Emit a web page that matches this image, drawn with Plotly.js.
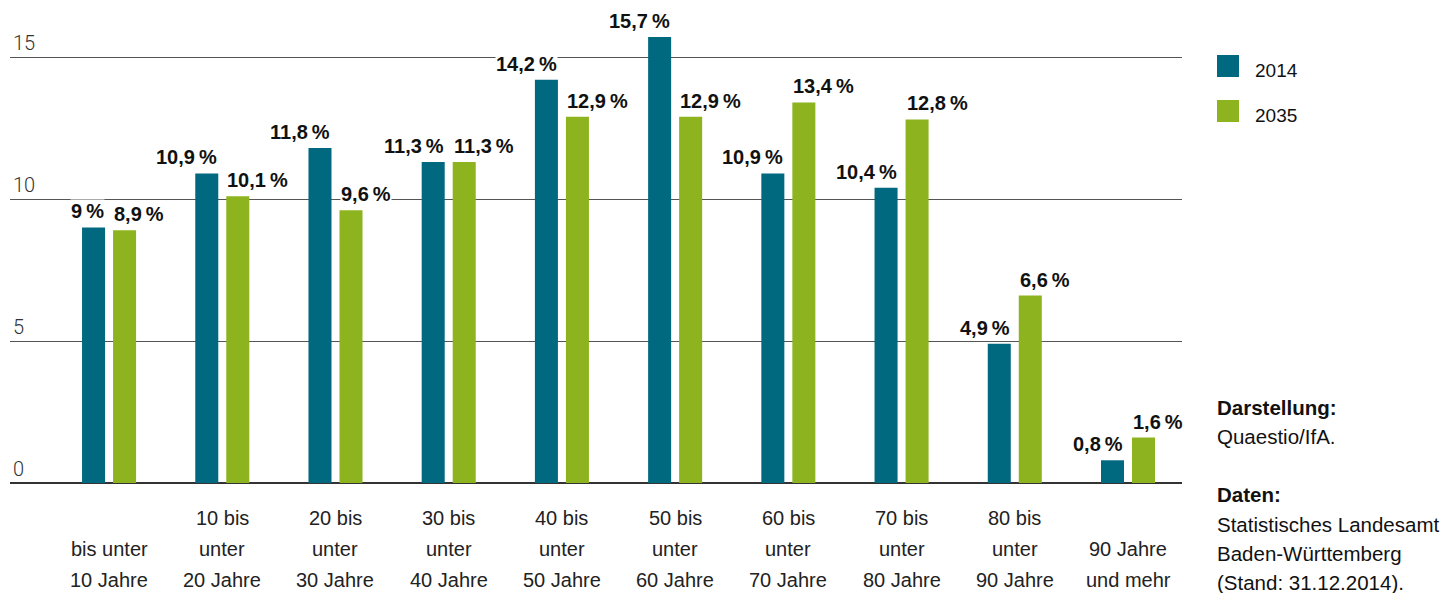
<!DOCTYPE html>
<html>
<head>
<meta charset="utf-8">
<script src="https://cdn.plot.ly/plotly-3.0.1.min.js"></script>
<style>
html,body{margin:0;padding:0;background:#fff;}
#chart{width:1456px;height:593px;}
</style>
</head>
<body>
<div id="chart"></div>
<script>
// ---- data ----
const categories = ["bis unter 10 Jahre","10 bis unter 20 Jahre","20 bis unter 30 Jahre","30 bis unter 40 Jahre","40 bis unter 50 Jahre","50 bis unter 60 Jahre","60 bis unter 70 Jahre","70 bis unter 80 Jahre","80 bis unter 90 Jahre","90 Jahre und mehr"];
const categoryLines = [
  ["bis unter","10 Jahre"],
  ["10 bis","unter","20 Jahre"],
  ["20 bis","unter","30 Jahre"],
  ["30 bis","unter","40 Jahre"],
  ["40 bis","unter","50 Jahre"],
  ["50 bis","unter","60 Jahre"],
  ["60 bis","unter","70 Jahre"],
  ["70 bis","unter","80 Jahre"],
  ["80 bis","unter","90 Jahre"],
  ["90 Jahre","und mehr"]
];
const values2014 = [9, 10.9, 11.8, 11.3, 14.2, 15.7, 10.9, 10.4, 4.9, 0.8];
const values2035 = [8.9, 10.1, 9.6, 11.3, 12.9, 12.9, 13.4, 12.8, 6.6, 1.6];
const seriesNames = ["2014", "2035"];
const yTicks = [0, 5, 10, 15];
const sourceLines = [
  {text: "Darstellung:", bold: true},
  {text: "Quaestio/IfA.", bold: false},
  {text: "Daten:", bold: true},
  {text: "Statistisches Landesamt", bold: false},
  {text: "Baden-Württemberg", bold: false},
  {text: "(Stand: 31.12.2014).", bold: false}
];

// ---- styles ----
const BLUE = "#006980";
const GREEN = "#8db41e";
const FONT = "'Liberation Sans', Arial, sans-serif";
const TICKFONT = "Roboto, 'Liberation Sans', sans-serif";
const idx = categories.map((_, i) => i);
const fmt = v => String(v).replace(".", ",") + "\u2009%";

const traces = [
  {type: "bar", name: seriesNames[0], x: idx, y: values2014, marker: {color: BLUE}, hoverinfo: "skip"},
  {type: "bar", name: seriesNames[1], x: idx, y: values2035, marker: {color: GREEN}, hoverinfo: "skip"}
];

const annotations = [];
const half = 0.0354;
const labelFont = {family: FONT, size: 20, color: "#111", weight: "bold"};
values2014.forEach((v, i) => annotations.push({
  x: i - half, y: v, xref: "x", yref: "y", text: fmt(v), showarrow: false,
  xanchor: "right", yanchor: "bottom", yshift: 4, bgcolor: "#fff", borderpad: 0,
  font: labelFont
}));
values2035.forEach((v, i) => annotations.push({
  x: i + half, y: v, xref: "x", yref: "y", text: fmt(v), showarrow: false,
  xanchor: "left", yanchor: "bottom", yshift: 4, bgcolor: "#fff", borderpad: 0,
  font: labelFont
}));
// category labels, bottom aligned, one annotation per line
const lineCenters = [580, 549, 518];
categoryLines.forEach((lines, i) => {
  const n = lines.length;
  lines.forEach((ln, k) => {
    const py = lineCenters[n - 1 - k];
    annotations.push({
      x: i, y: 0, xref: "x", yref: "paper", text: ln, showarrow: false,
      xanchor: "center", yanchor: "middle", yshift: -(py - 483),
      font: {family: FONT, size: 20, color: "#222"}
    });
  });
});
// source text on the right
const srcY = [407, 436, 494, 524, 553, 582];
sourceLines.forEach((s, k) => annotations.push({
  x: 1, y: 0, xref: "paper", yref: "paper", text: s.text, showarrow: false,
  xanchor: "left", yanchor: "middle", xshift: 33, yshift: -(srcY[k] - 483),
  font: {family: FONT, size: 20.5, color: "#111", weight: s.bold ? "bold" : "normal"}
}));
// legend text
const legY = [70, 115];
seriesNames.forEach((nm, k) => annotations.push({
  x: 1, y: 0, xref: "paper", yref: "paper", text: nm, showarrow: false,
  xanchor: "left", yanchor: "middle", xshift: 71, yshift: -(legY[k] - 483),
  font: {family: FONT, size: 19, color: "#111"}
}));

const PH = 473, PW = 1172;
const shapes = [BLUE, GREEN].map((c, k) => ({
  type: "rect", xref: "paper", yref: "paper",
  x0: (1217 - 10) / PW, x1: (1239 - 10) / PW,
  y0: (483 - (77 + 45 * k)) / PH, y1: (483 - (55 + 45 * k)) / PH,
  fillcolor: c, line: {width: 0}
}));

const layout = {
  width: 1456, height: 593,
  margin: {l: 10, r: 274, t: 10, b: 110},
  paper_bgcolor: "#fff", plot_bgcolor: "#fff",
  barmode: "group", bargap: 0.452, bargroupgap: 0.258,
  showlegend: false,
  font: {family: FONT, color: "#222"},
  xaxis: {range: [-0.875, 9.477], showticklabels: false, showgrid: false, zeroline: false, showline: false, ticks: "", fixedrange: true},
  yaxis: {range: [0, 16.655], tickvals: yTicks, ticktext: yTicks.map(String),
          ticklabelposition: "inside top", showgrid: true, gridcolor: "#555", gridwidth: 1,
          zeroline: true, zerolinecolor: "#333", zerolinewidth: 1.5, showline: false, ticks: "",
          tickfont: {family: TICKFONT, size: 20, color: "#333", weight: 300}, fixedrange: true},
  annotations: annotations,
  shapes: shapes
};

Plotly.newPlot("chart", traces, layout, {displayModeBar: false, staticPlot: true});
</script>
</body>
</html>
